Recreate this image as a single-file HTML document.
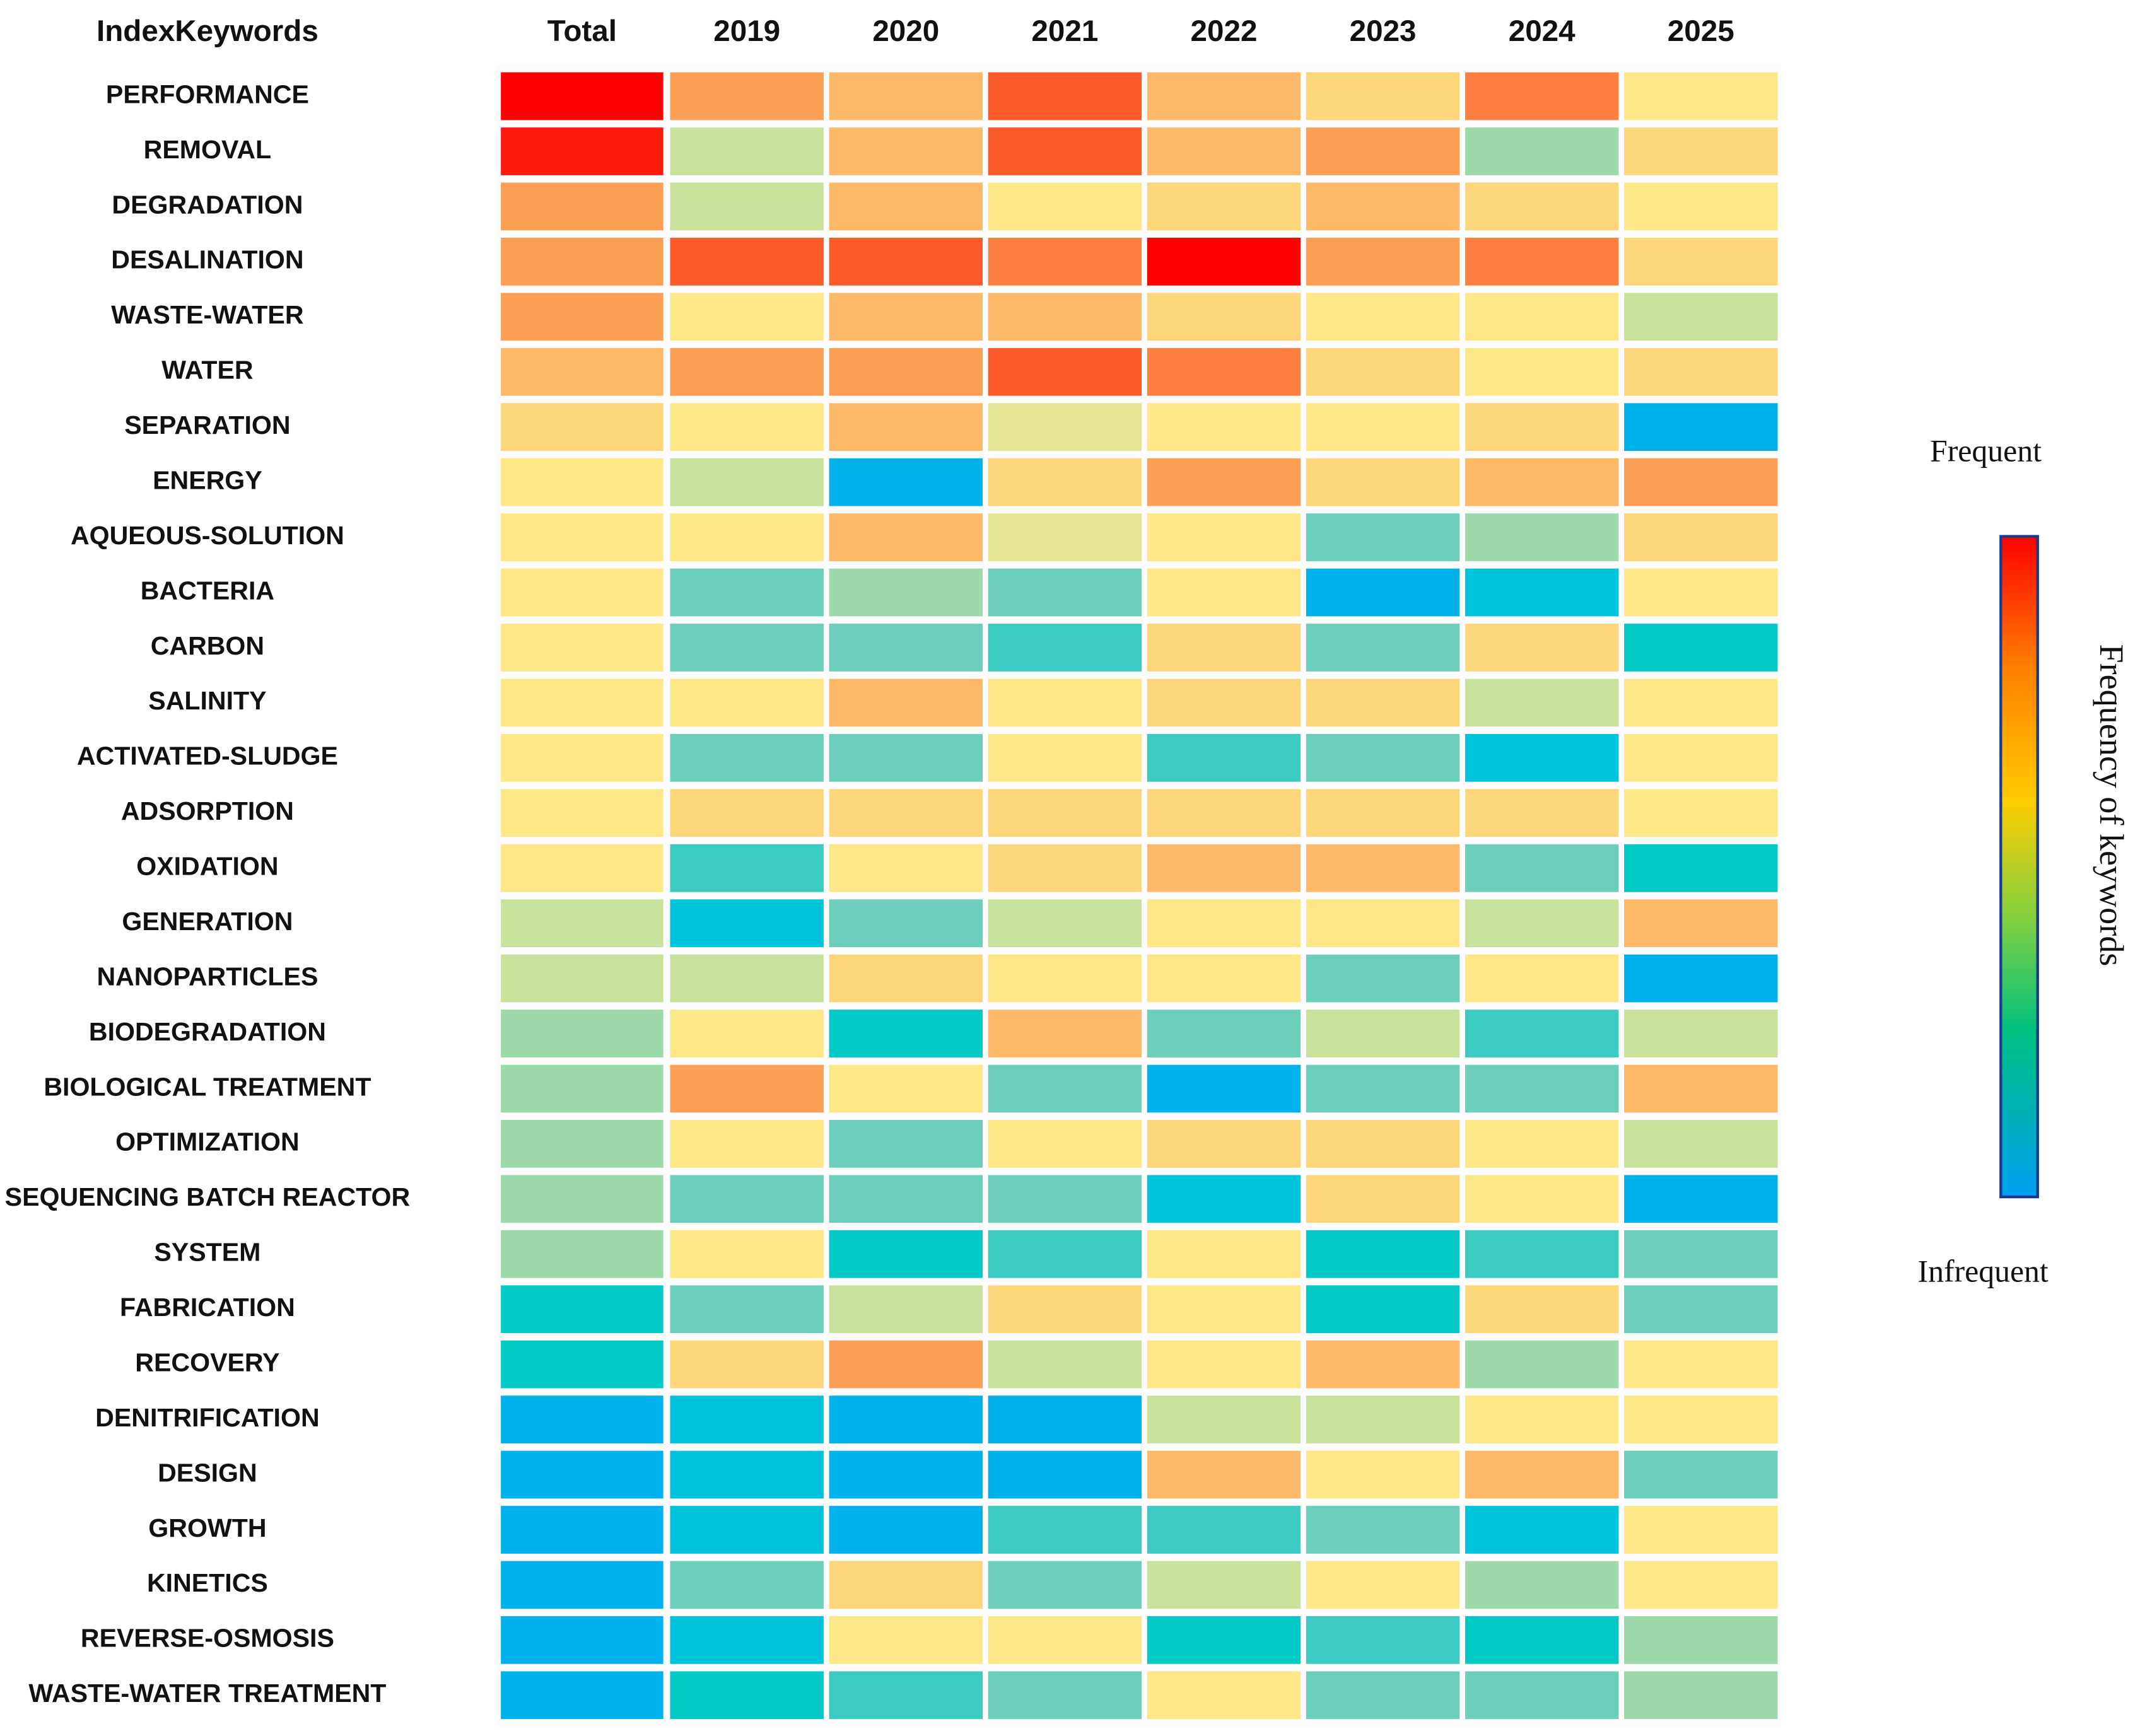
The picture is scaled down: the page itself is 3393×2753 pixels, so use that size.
<!DOCTYPE html>
<html><head><meta charset="utf-8">
<style>
html,body{margin:0;padding:0;background:#fff;}
svg{display:block;}
.lbl{font-family:"Liberation Sans",sans-serif;font-weight:bold;font-size:19px;fill:#111;}
.hdr{font-family:"Liberation Sans",sans-serif;font-weight:bold;font-size:22px;fill:#111;}
.ser{font-family:"Liberation Serif",serif;font-size:23px;fill:#111;}
</style></head>
<body>
<svg id="chart" width="3393" height="2753" viewBox="0 0 1568 1272" preserveAspectRatio="none" xmlns="http://www.w3.org/2000/svg">
<defs>
<linearGradient id="cbar" x1="0" y1="1" x2="0" y2="0">
<stop offset="0" stop-color="#00a0f0"/>
<stop offset="0.25" stop-color="#00c080"/>
<stop offset="0.42" stop-color="#80d040"/>
<stop offset="0.6" stop-color="#ffcc00"/>
<stop offset="0.8" stop-color="#ff8000"/>
<stop offset="1" stop-color="#ff0000"/>
</linearGradient>
</defs>
<g id="cells"></g>
<g id="labels"></g>
<rect x="1466" y="393" width="27" height="484" fill="url(#cbar)" stroke="#1a3a8a" stroke-width="2"/>
<text class="ser" x="1455" y="338" text-anchor="middle">Frequent</text>
<text class="ser" x="1453" y="939" text-anchor="middle">Infrequent</text>
<text class="ser" transform="translate(1539,590) rotate(90)" text-anchor="middle" style="font-size:25px">Frequency of keywords</text>
</svg>
<script>
const columns = ["Total","2019","2020","2021","2022","2023","2024","2025"];
const keywords = ["PERFORMANCE","REMOVAL","DEGRADATION","DESALINATION","WASTE-WATER","WATER","SEPARATION","ENERGY","AQUEOUS-SOLUTION","BACTERIA","CARBON","SALINITY","ACTIVATED-SLUDGE","ADSORPTION","OXIDATION","GENERATION","NANOPARTICLES","BIODEGRADATION","BIOLOGICAL TREATMENT","OPTIMIZATION","SEQUENCING BATCH REACTOR","SYSTEM","FABRICATION","RECOVERY","DENITRIFICATION","DESIGN","GROWTH","KINETICS","REVERSE-OSMOSIS","WASTE-WATER TREATMENT"];
const values = [
[14,10,9,12,9,8,11,7],
[13,6,9,12,9,10,5,8],
[10,6,9,7,8,9,8,7],
[10,12,12,11,14,10,11,8],
[10,7,9,9,8,7,7,6],
[9,10,10,12,11,8,7,8],
[8,7,9,6.5,7,7,8,0],
[7,6,0,8,10,8,9,10],
[7,7,9,6.5,7,4,5,8],
[7,4,5,4,7,0,1,7],
[7,4,4,3,8,4,8,2],
[7,7,9,7,8,8,6,7],
[7,4,4,7,3,4,1,7],
[7,8,8,8,8,8,8,7],
[7,3,7,8,9,9,4,2],
[6,1,4,6,7,7,6,9],
[6,6,8,7,7,4,7,0],
[5,7,2,9,4,6,3,6],
[5,10,7,4,0,4,4,9],
[5,7,4,7,8,8,7,6],
[5,4,4,4,1,8,7,0],
[5,7,2,3,7,2,3,4],
[2,4,6,8,7,2,8,4],
[2,8,10,6,7,9,5,7],
[0,1,0,0,6,6,7,7],
[0,1,0,0,9,7,9,4],
[0,1,0,3,3,4,1,7],
[0,4,8,4,6,7,5,7],
[0,1,7,7,2,3,2,5],
[0,2,3,4,7,4,4,5]
];
const palette = ["#00b2ec","#00c4dc","#00c9c6","#3ccbc2","#6ccfbc","#9ed9ac","#c8e29c","#fde787","#fdd67a","#fdb868","#fd9e55","#fd8040","#fd5a2a","#ff1a10","#ff0000"];

function hexToRgb(h){return [parseInt(h.slice(1,3),16),parseInt(h.slice(3,5),16),parseInt(h.slice(5,7),16)];}
function colorFor(v){
  v=Math.max(0,Math.min(palette.length-1,v));
  const i=Math.floor(v), f=v-i;
  const a=hexToRgb(palette[i]), b=hexToRgb(palette[Math.min(i+1,palette.length-1)]);
  return "rgb("+a.map((c,k)=>Math.round(c+(b[k]-c)*f)).join(",")+")";
}
const NS="http://www.w3.org/2000/svg";
const totalX=367, totalW=119, yearX0=491, colPitch=116.5, cellW=112.5, y0=53, rowPitch=40.4, cellH=35;
function xScale(c){return c===0?totalX:yearX0+(c-1)*colPitch;}
function wScale(c){return c===0?totalW:cellW;}
function yScale(r){return y0+r*rowPitch;}
const cells=document.getElementById("cells");
const labels=document.getElementById("labels");
const bg=document.createElementNS(NS,"rect");
bg.setAttribute("x",363);bg.setAttribute("y",47);bg.setAttribute("width",942);bg.setAttribute("height",1218);bg.setAttribute("fill","#fcfcfc");


cells.appendChild(bg);
values.forEach((row,r)=>{
  row.forEach((v,c)=>{
    const rect=document.createElementNS(NS,"rect");
    rect.setAttribute("x",xScale(c));
    rect.setAttribute("y",yScale(r));
    rect.setAttribute("width",wScale(c));
    rect.setAttribute("height",cellH);
    rect.setAttribute("fill",colorFor(v));
    
    
    cells.appendChild(rect);
  });
  const t=document.createElementNS(NS,"text");
  t.setAttribute("x",152);
  t.setAttribute("y",yScale(r)+cellH/2+5);
  t.setAttribute("text-anchor","middle");
  t.setAttribute("class","lbl");
  t.textContent=keywords[r];
  
  
  labels.appendChild(t);
});
columns.forEach((name,c)=>{
  const t=document.createElementNS(NS,"text");
  t.setAttribute("x",xScale(c)+wScale(c)/2);
  t.setAttribute("y",30);
  t.setAttribute("text-anchor","middle");
  t.setAttribute("class","hdr");
  t.textContent=name;
  
  
  labels.appendChild(t);
});
const h=document.createElementNS(NS,"text");
h.setAttribute("x",152);h.setAttribute("y",30);h.setAttribute("text-anchor","middle");h.setAttribute("class","hdr");
h.textContent="IndexKeywords";


labels.appendChild(h);
</script>
</body></html>
